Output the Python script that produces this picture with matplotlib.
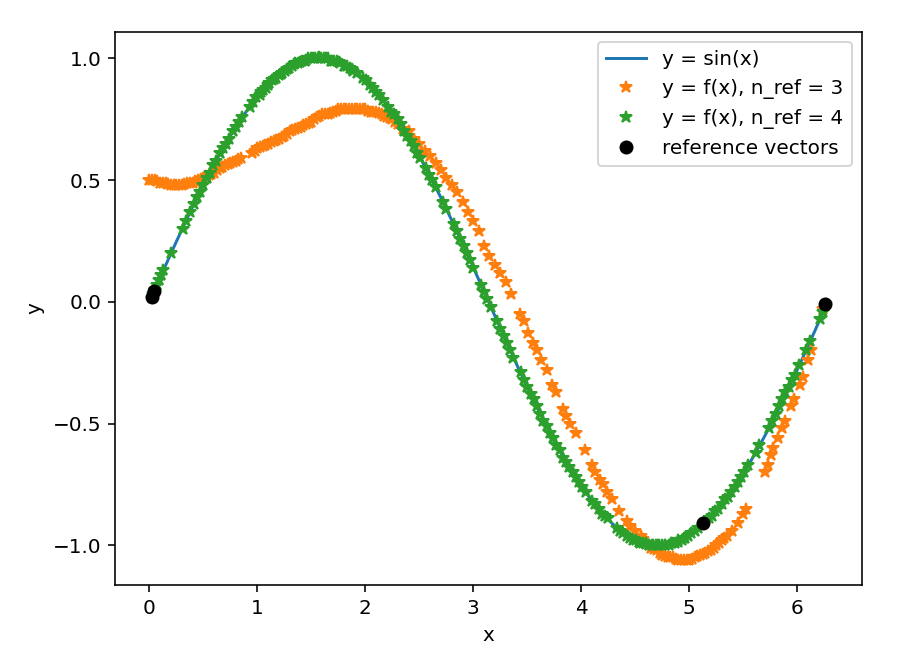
import numpy as np
import matplotlib
matplotlib.use("Agg")
import matplotlib.pyplot as plt

# f(x) samples, n_ref = 3
x_ref3 = [0.00, 0.05, 0.10, 0.15, 0.20, 0.25, 0.30, 0.35, 0.40, 0.45,
          0.50, 0.55, 0.60, 0.65, 0.70, 0.75, 0.80, 0.85, 0.95, 1.00,
          1.05, 1.10, 1.15, 1.20, 1.25, 1.30, 1.35, 1.40, 1.45, 1.50,
          1.55, 1.60, 1.65, 1.70, 1.75, 1.80, 1.85, 1.90, 1.95, 2.00,
          2.05, 2.10, 2.15, 2.20, 2.25, 2.30, 2.35, 2.40, 2.45, 2.50,
          2.55, 2.60, 2.65, 2.70, 2.75, 2.80, 2.85, 2.90, 2.95, 3.00,
          3.05, 3.10, 3.15, 3.20, 3.25, 3.30, 3.35, 3.43, 3.47, 3.51,
          3.55, 3.59, 3.63, 3.68, 3.73, 3.77, 3.83, 3.86, 3.90, 3.95,
          4.03, 4.10, 4.13, 4.17, 4.20, 4.24, 4.28, 4.35, 4.42, 4.45,
          4.50, 4.55, 4.60, 4.65, 4.70, 4.75, 4.80, 4.85, 4.90, 4.95,
          5.00, 5.05, 5.10, 5.15, 5.20, 5.25, 5.30, 5.35, 5.40, 5.45,
          5.50, 5.53, 5.70, 5.73, 5.76, 5.78, 5.82, 5.86, 5.89, 5.94,
          5.97, 6.03, 6.05, 6.10, 6.13, 6.24, 6.27,
          # denser parts of the band
          0.025, 0.075, 0.125, 0.175, 0.225, 0.275, 0.325, 0.375, 0.425, 0.475,
          0.525, 0.575, 0.625, 0.675, 0.725, 0.775, 0.825, 0.975, 1.025, 1.075,
          1.125, 1.175, 1.225, 1.275, 1.325, 1.375, 1.425, 1.475, 1.525, 1.575,
          1.625, 1.675, 1.725, 1.775, 1.825, 1.875, 1.925, 1.975, 2.025, 2.075,
          2.125, 2.175, 2.225, 2.275,
          4.575, 4.625, 4.675, 4.725, 4.775, 4.825, 4.875, 4.925, 4.975, 5.025,
          5.075, 5.125, 5.175, 5.225, 5.275, 5.325]
y_ref3 = [0.50, 0.50, 0.49, 0.49, 0.48, 0.48, 0.48, 0.49, 0.49, 0.50,
          0.51, 0.52, 0.53, 0.55, 0.56, 0.57, 0.58, 0.59, 0.61, 0.63,
          0.64, 0.65, 0.66, 0.67, 0.68, 0.70, 0.71, 0.72, 0.73, 0.74,
          0.76, 0.77, 0.77, 0.78, 0.79, 0.79, 0.79, 0.79, 0.79, 0.79,
          0.78, 0.78, 0.77, 0.76, 0.75, 0.73, 0.71, 0.70, 0.67, 0.65,
          0.62, 0.60, 0.57, 0.54, 0.51, 0.48, 0.45, 0.41, 0.37, 0.33,
          0.29, 0.23, 0.19, 0.15, 0.12, 0.08, 0.03, -0.05, -0.08, -0.13,
          -0.17, -0.20, -0.24, -0.28, -0.34, -0.37, -0.44, -0.47, -0.50, -0.54,
          -0.61, -0.67, -0.70, -0.73, -0.75, -0.78, -0.81, -0.86, -0.90, -0.92,
          -0.94, -0.96, -0.99, -1.01, -1.02, -1.04, -1.05, -1.05, -1.06, -1.06,
          -1.06, -1.05, -1.04, -1.03, -1.02, -1.00, -0.98, -0.96, -0.94, -0.91,
          -0.87, -0.85, -0.70, -0.67, -0.63, -0.60, -0.56, -0.52, -0.49, -0.43,
          -0.40, -0.34, -0.31, -0.24, -0.20, -0.03, -0.01,
          0.500, 0.495, 0.490, 0.485, 0.480, 0.480, 0.485, 0.490, 0.495, 0.505,
          0.515, 0.525, 0.540, 0.555, 0.565, 0.575, 0.585, 0.620, 0.635, 0.645,
          0.655, 0.665, 0.675, 0.690, 0.705, 0.715, 0.725, 0.735, 0.750, 0.765,
          0.770, 0.775, 0.785, 0.790, 0.790, 0.790, 0.790, 0.790, 0.785, 0.780,
          0.775, 0.765, 0.755, 0.740,
          -0.975, -1.000, -1.015, -1.030, -1.045, -1.050, -1.055, -1.060, -1.060, -1.055,
          -1.045, -1.035, -1.025, -1.010, -0.990, -0.970]

# f(x) samples, n_ref = 4
x_ref4 = [0.03, 0.05, 0.07, 0.09, 0.11, 0.13, 0.20, 0.31, 0.34, 0.38,
          0.41, 0.44, 0.47, 0.50, 0.53, 0.56, 0.59, 0.62, 0.65, 0.68,
          0.71, 0.74, 0.77, 0.80, 0.83, 0.86, 0.93, 0.96, 0.99, 1.02,
          1.05, 1.08, 1.11, 1.14, 1.17, 1.20, 1.23, 1.26, 1.29, 1.32,
          1.35, 1.38, 1.41, 1.44, 1.47, 1.50, 1.53, 1.56, 1.59, 1.62,
          1.65, 1.68, 1.71, 1.74, 1.77, 1.80, 1.83, 1.86, 1.89, 1.92,
          1.98, 2.01, 2.04, 2.07, 2.10, 2.13, 2.16, 2.21, 2.24, 2.27,
          2.30, 2.33, 2.36, 2.39, 2.42, 2.45, 2.48, 2.51, 2.56, 2.59,
          2.62, 2.65, 2.72, 2.75, 2.82, 2.85, 2.88, 2.91, 2.94, 2.97,
          3.00, 3.07, 3.10, 3.13, 3.16, 3.22, 3.25, 3.28, 3.31, 3.34,
          3.37, 3.44, 3.47, 3.50, 3.53, 3.56, 3.59, 3.62, 3.65, 3.68,
          3.71, 3.74, 3.77, 3.80, 3.83, 3.86, 3.89, 3.92, 3.95, 3.98,
          4.01, 4.04, 4.10, 4.13, 4.16, 4.19, 4.22, 4.25, 4.33, 4.36,
          4.39, 4.42, 4.45, 4.48, 4.51, 4.54, 4.57, 4.60, 4.63, 4.66,
          4.69, 4.72, 4.75, 4.78, 4.81, 4.84, 4.87, 4.90, 4.93, 4.96,
          4.99, 5.02, 5.05, 5.08, 5.18, 5.21, 5.24, 5.27, 5.30, 5.33,
          5.36, 5.39, 5.42, 5.45, 5.48, 5.51, 5.54, 5.62, 5.65, 5.74,
          5.77, 5.80, 5.83, 5.86, 5.89, 5.92, 5.95, 5.98, 6.02, 6.08,
          6.12, 6.21, 6.24,
          # denser parts of the band
          1.035, 1.095, 1.155, 1.215, 1.275, 1.335, 1.395, 1.455, 1.515, 1.575,
          1.635, 1.695, 1.755, 1.815, 1.875,
          4.535, 4.595, 4.655, 4.715, 4.775, 4.835, 4.895, 4.955]
y_ref4 = [0.03, 0.05, 0.07, 0.09, 0.11, 0.13, 0.20, 0.30, 0.33, 0.37,
          0.40, 0.43, 0.45, 0.48, 0.51, 0.53, 0.56, 0.58, 0.61, 0.63,
          0.65, 0.67, 0.70, 0.72, 0.74, 0.76, 0.80, 0.82, 0.84, 0.85,
          0.87, 0.88, 0.90, 0.91, 0.92, 0.93, 0.94, 0.95, 0.96, 0.97,
          0.98, 0.98, 0.99, 0.99, 1.00, 1.00, 1.00, 1.00, 1.00, 1.00,
          1.00, 0.99, 0.99, 0.99, 0.98, 0.97, 0.97, 0.96, 0.95, 0.94,
          0.92, 0.91, 0.89, 0.88, 0.86, 0.85, 0.83, 0.80, 0.78, 0.77,
          0.75, 0.73, 0.70, 0.68, 0.66, 0.64, 0.61, 0.59, 0.55, 0.52,
          0.50, 0.47, 0.41, 0.38, 0.32, 0.29, 0.26, 0.23, 0.20, 0.17,
          0.14, 0.07, 0.04, 0.01, -0.02, -0.08, -0.11, -0.14, -0.17, -0.20,
          -0.23, -0.29, -0.32, -0.35, -0.38, -0.40, -0.43, -0.46, -0.49, -0.51,
          -0.54, -0.56, -0.59, -0.61, -0.64, -0.66, -0.68, -0.70, -0.72, -0.74,
          -0.76, -0.78, -0.82, -0.83, -0.85, -0.87, -0.88, -0.89, -0.93, -0.94,
          -0.95, -0.96, -0.97, -0.98, -0.98, -0.99, -0.99, -0.99, -1.00, -1.00,
          -1.00, -1.00, -1.00, -1.00, -1.00, -0.99, -0.99, -0.98, -0.98, -0.97,
          -0.96, -0.95, -0.94, -0.93, -0.89, -0.88, -0.86, -0.85, -0.83, -0.81,
          -0.80, -0.78, -0.76, -0.74, -0.72, -0.70, -0.67, -0.62, -0.59, -0.52,
          -0.49, -0.46, -0.43, -0.40, -0.37, -0.35, -0.32, -0.30, -0.26, -0.20,
          -0.16, -0.07, -0.04,
          0.860, 0.890, 0.915, 0.935, 0.955, 0.975, 0.985, 0.995, 1.000, 1.005,
          1.000, 0.990, 0.985, 0.970, 0.955,
          -0.985, -0.995, -1.000, -1.000, -1.000, -0.990, -0.985, -0.970]

# reference vectors
x_vec = [0.02, 0.045, 5.13, 6.26]
y_vec = [0.02, 0.045, -0.91, -0.01]


def main():
    x = np.linspace(0, 2 * np.pi, 500)

    fig = plt.figure(figsize=(909 / 144, 657 / 144), dpi=144)
    ax = fig.add_axes([0.127, 0.1096, 0.821, 0.8417])

    ax.plot(x, np.sin(x), label="y = sin(x)")
    ax.plot(x_ref3, y_ref3, "*", color="C1", label="y = f(x), n_ref = 3")
    ax.plot(x_ref4, y_ref4, "*", color="C2", label="y = f(x), n_ref = 4")
    ax.plot(x_vec, y_vec, "o", color="black", label="reference vectors")

    ax.set_xlabel("x")
    ax.set_ylabel("y")
    ax.legend(loc="upper right")

    fig.savefig("out.png", dpi=144)


if __name__ == "__main__":
    main()
